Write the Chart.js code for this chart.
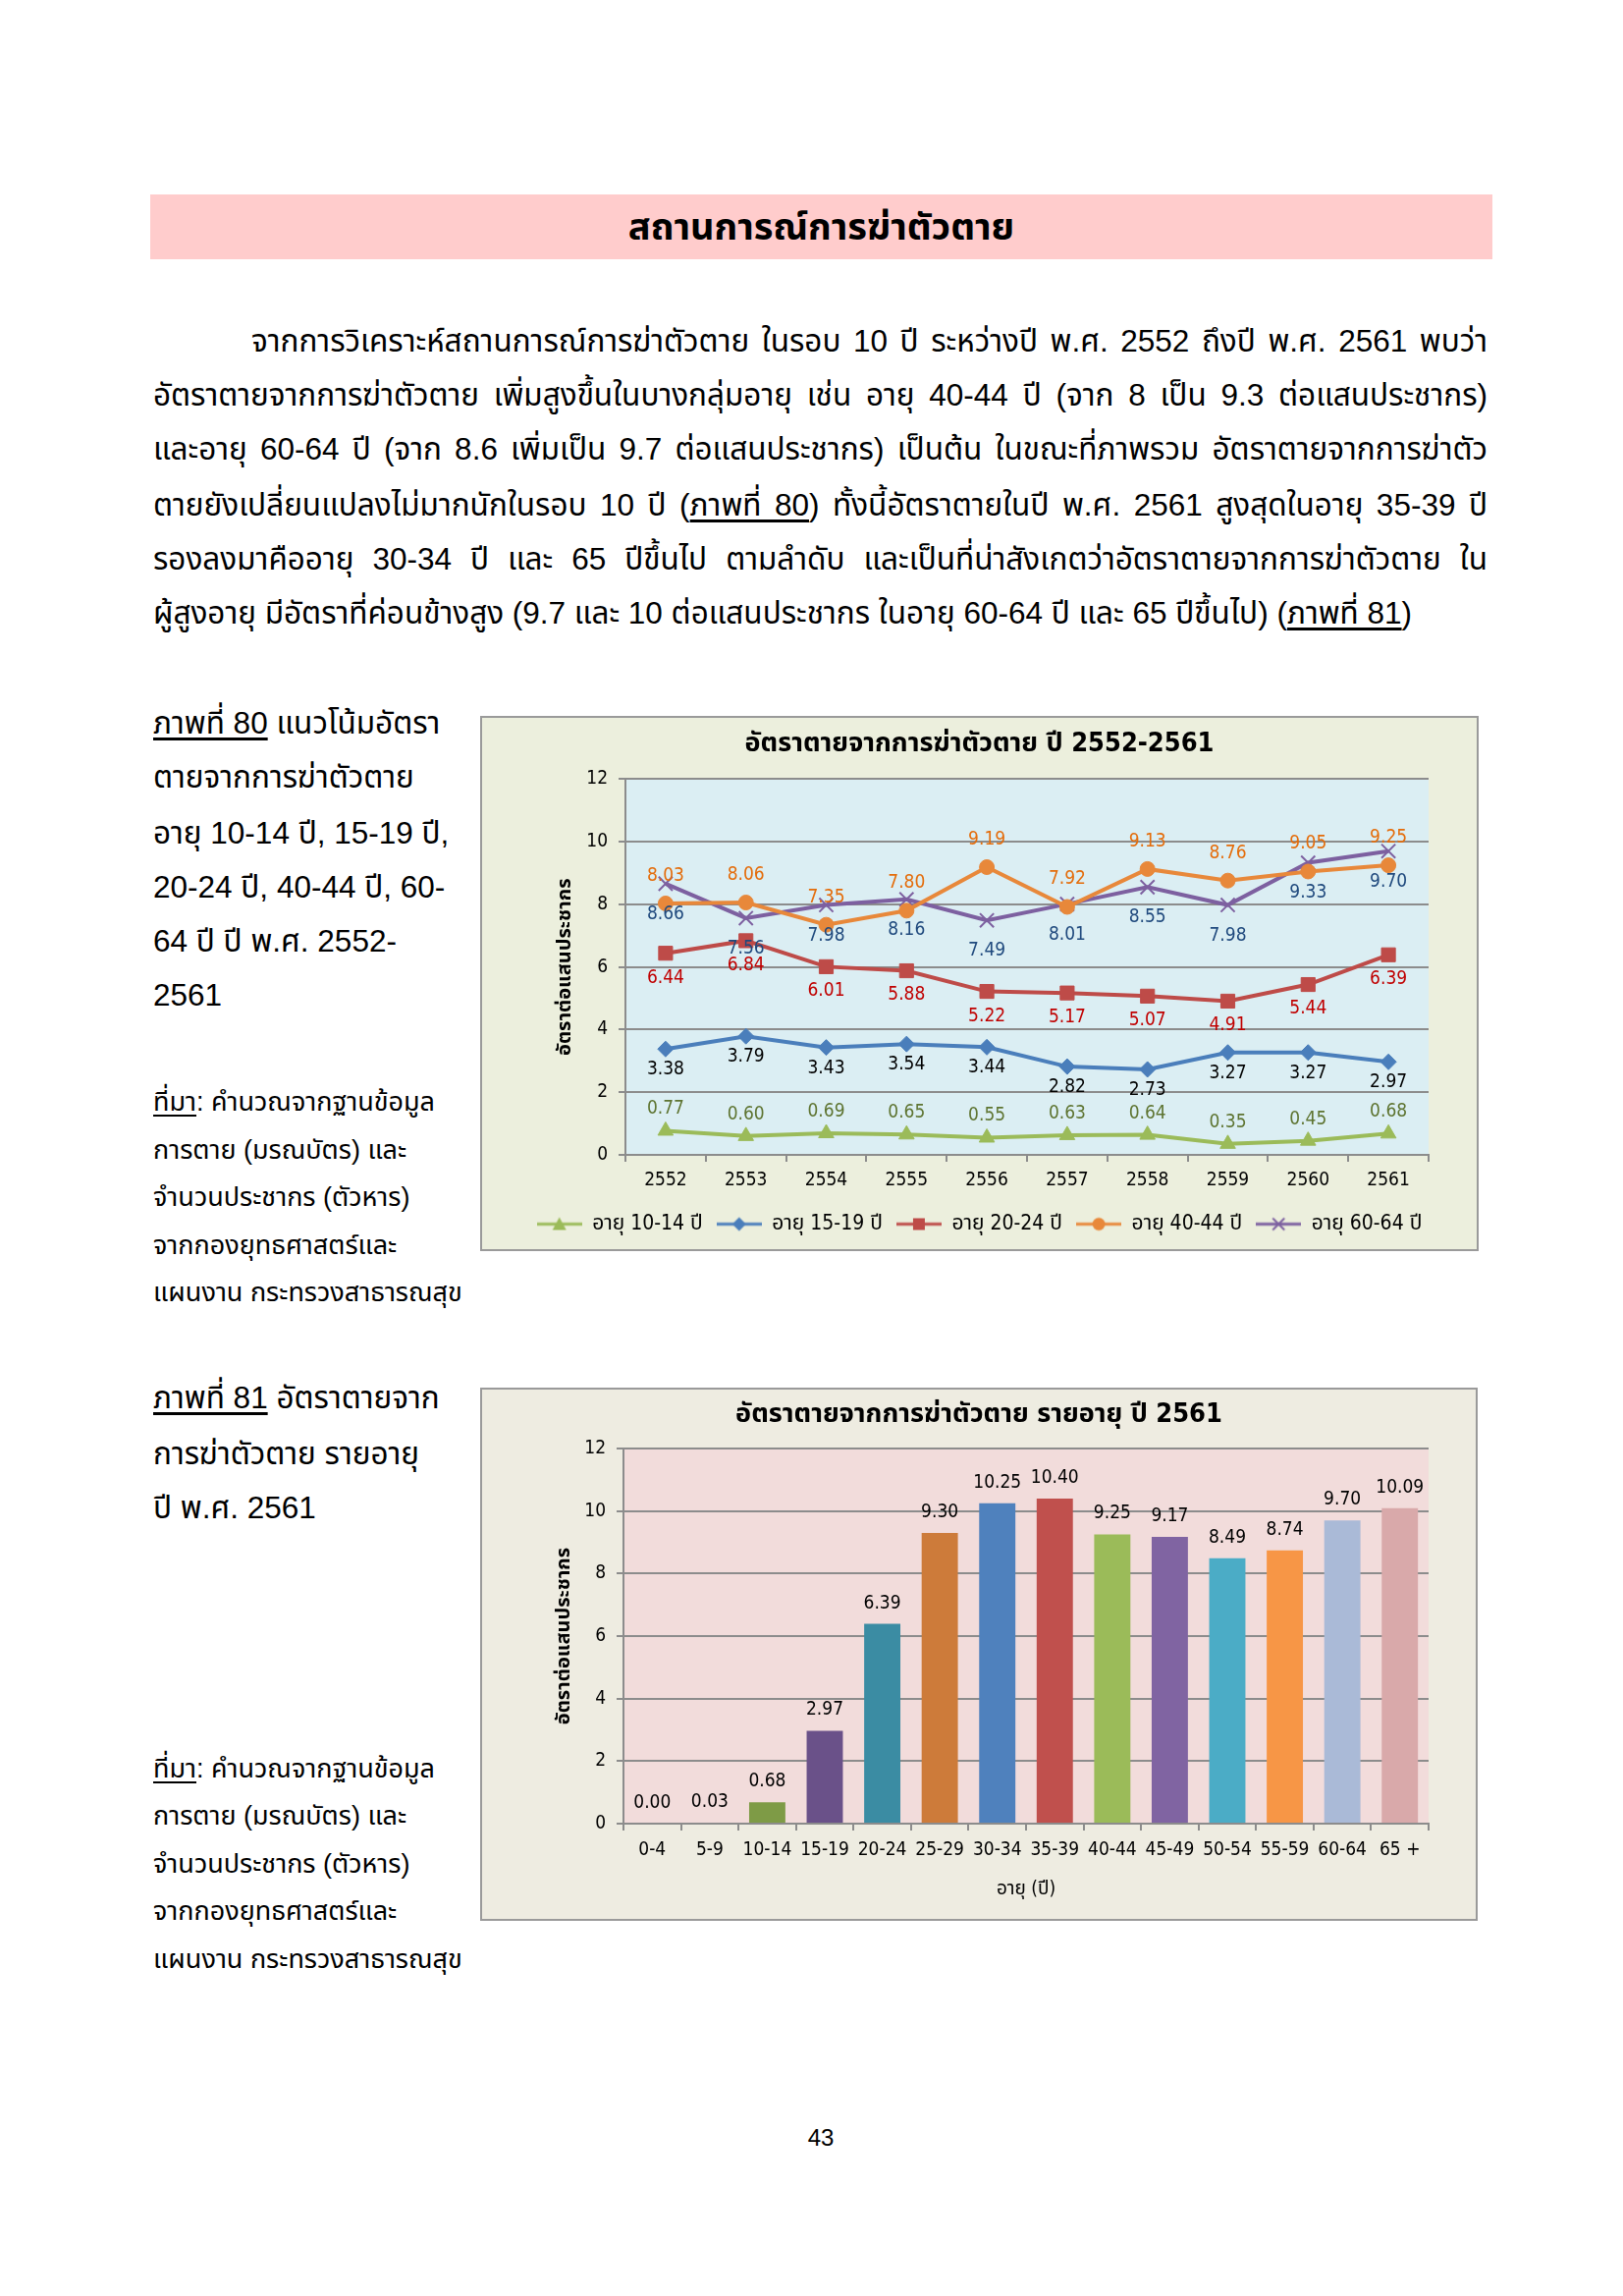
<!DOCTYPE html>
<html>
<head>
<meta charset="utf-8">
<script src="https://cdn.jsdelivr.net/npm/chart.js@4.4.0/dist/chart.umd.min.js"></script>
<style>
  html, body { margin: 0; padding: 0; background: #fff; }
  body { width: 1653px; height: 2338px; position: relative; overflow: hidden;
         font-family: "Liberation Sans", "Noto Sans Thai", "DejaVu Sans", sans-serif; color: #000; }
  .abs { position: absolute; white-space: nowrap; }
  .band { left: 153px; top: 198px; width: 1367px; height: 66px; background: #FFCCCC; }
  .band-title { left: 153px; top: 198px; width: 1367px; line-height: 66px; text-align: center;
                font-size: 38px; font-weight: bold; }
  .para { position: absolute; left: 156px; width: 1359px; font-size: 31.5px; line-height: 40px; height: 40px;
          text-align: justify; text-align-last: justify; white-space: normal; overflow: visible; }
  .cap { font-size: 31.5px; line-height: 40px; height: 40px; left: 156px; }
  .src { font-size: 27px; line-height: 36px; height: 36px; left: 156px; }
  u { text-underline-offset: 4px; }
  .frame { position: absolute; box-sizing: border-box; border: 2px solid #9a9a9a; }
  .frame canvas { display: block; }
</style>
</head>
<body>

<div class="abs band"></div>
<div class="abs band-title">สถานการณ์การฆ่าตัวตาย</div>

<div class="para" style="top:327px; left:256px; width:1259px;">จากการวิเคราะห์สถานการณ์การฆ่าตัวตาย ในรอบ 10 ปี ระหว่างปี พ.ศ. 2552 ถึงปี พ.ศ. 2561 พบว่า</div>
<div class="para" style="top:382px;">อัตราตายจากการฆ่าตัวตาย เพิ่มสูงขึ้นในบางกลุ่มอายุ เช่น อายุ 40-44 ปี (จาก 8 เป็น 9.3 ต่อแสนประชากร)</div>
<div class="para" style="top:437px;">และอายุ 60-64 ปี (จาก 8.6 เพิ่มเป็น 9.7 ต่อแสนประชากร) เป็นต้น ในขณะที่ภาพรวม อัตราตายจากการฆ่าตัว</div>
<div class="para" style="top:494px;">ตายยังเปลี่ยนแปลงไม่มากนักในรอบ 10 ปี (<u>ภาพที่ 80</u>) ทั้งนี้อัตราตายในปี พ.ศ. 2561 สูงสุดในอายุ 35-39 ปี</div>
<div class="para" style="top:549px;">รองลงมาคืออายุ 30-34 ปี และ 65 ปีขึ้นไป ตามลำดับ และเป็นที่น่าสังเกตว่าอัตราตายจากการฆ่าตัวตาย ใน</div>
<div class="para" style="top:604px; text-align:left; text-align-last:left;">ผู้สูงอายุ มีอัตราที่ค่อนข้างสูง (9.7 และ 10 ต่อแสนประชากร ในอายุ 60-64 ปี และ 65 ปีขึ้นไป) (<u>ภาพที่ 81</u>)</div>

<div class="abs cap" style="top:716px;"><u>ภาพที่ 80</u> แนวโน้มอัตรา</div>
<div class="abs cap" style="top:771px;">ตายจากการฆ่าตัวตาย</div>
<div class="abs cap" style="top:828px;">อายุ 10-14 ปี, 15-19 ปี,</div>
<div class="abs cap" style="top:883px;">20-24 ปี, 40-44 ปี, 60-</div>
<div class="abs cap" style="top:938px;">64 ปี ปี พ.ศ. 2552-</div>
<div class="abs cap" style="top:993px;">2561</div>

<div class="abs src" style="top:1104px;"><u>ที่มา</u>: คำนวณจากฐานข้อมูล</div>
<div class="abs src" style="top:1153px;">การตาย (มรณบัตร) และ</div>
<div class="abs src" style="top:1201px;">จำนวนประชากร (ตัวหาร)</div>
<div class="abs src" style="top:1250px;">จากกองยุทธศาสตร์และ</div>
<div class="abs src" style="top:1298px;">แผนงาน กระทรวงสาธารณสุข</div>

<div class="abs cap" style="top:1403px;"><u>ภาพที่ 81</u> อัตราตายจาก</div>
<div class="abs cap" style="top:1460px;">การฆ่าตัวตาย รายอายุ</div>
<div class="abs cap" style="top:1515px;">ปี พ.ศ. 2561</div>

<div class="abs src" style="top:1783px;"><u>ที่มา</u>: คำนวณจากฐานข้อมูล</div>
<div class="abs src" style="top:1831px;">การตาย (มรณบัตร) และ</div>
<div class="abs src" style="top:1880px;">จำนวนประชากร (ตัวหาร)</div>
<div class="abs src" style="top:1928px;">จากกองยุทธศาสตร์และ</div>
<div class="abs src" style="top:1977px;">แผนงาน กระทรวงสาธารณสุข</div>

<div class="abs" style="left:816px; top:2163px; width:40px; text-align:center; font-size:24px; line-height:28px;">43</div>

<div class="frame" style="left:489px; top:729px; width:1017px; height:545px;">
  <canvas id="trendChart" width="1013" height="541"></canvas>
</div>
<div class="frame" style="left:489px; top:1413px; width:1016px; height:543px;">
  <canvas id="ageChart" width="1012" height="539"></canvas>
</div>

<script>
// ---- data: chart 80 (trend by year) ----
const years = ['2552', '2553', '2554', '2555', '2556', '2557', '2558', '2559', '2560', '2561'];
const age10to14 = [0.77, 0.60, 0.69, 0.65, 0.55, 0.63, 0.64, 0.35, 0.45, 0.68];
const age15to19 = [3.38, 3.79, 3.43, 3.54, 3.44, 2.82, 2.73, 3.27, 3.27, 2.97];
const age20to24 = [6.44, 6.84, 6.01, 5.88, 5.22, 5.17, 5.07, 4.91, 5.44, 6.39];
const age40to44 = [8.03, 8.06, 7.35, 7.80, 9.19, 7.92, 9.13, 8.76, 9.05, 9.25];
const age60to64 = [8.66, 7.56, 7.98, 8.16, 7.49, 8.01, 8.55, 7.98, 9.33, 9.70];
const trendSeriesNames = ['อายุ 10-14 ปี', 'อายุ 15-19 ปี', 'อายุ 20-24 ปี', 'อายุ 40-44 ปี', 'อายุ 60-64 ปี'];

// ---- data: chart 81 (by age group, 2561) ----
const ageGroups = ['0-4', '5-9', '10-14', '15-19', '20-24', '25-29', '30-34', '35-39', '40-44', '45-49', '50-54', '55-59', '60-64', '65 +'];
const rate2561 = [0.00, 0.03, 0.68, 2.97, 6.39, 9.30, 10.25, 10.40, 9.25, 9.17, 8.49, 8.74, 9.70, 10.09];

const yMin = 0, yMax = 12, yStep = 2;

const chartFont = '"DejaVu Sans Condensed", "DejaVu Sans", "Noto Sans Thai", sans-serif';
const gridGray = '#8c8c8c';

// background of frame + plot area
const backgroundPlugin = {
    id: 'frameBackground',
    beforeDraw: function(chart, args, opts) {
        const ctx = chart.ctx;
        const area = chart.chartArea;
        ctx.save();
        ctx.fillStyle = opts.frame;
        ctx.fillRect(0, 0, chart.width, chart.height);
        ctx.fillStyle = opts.plot;
        ctx.fillRect(area.left, area.top, area.right - area.left, area.bottom - area.top);
        ctx.restore();
    }
};

// value labels above / below each point or bar
const valueLabelPlugin = {
    id: 'valueLabels',
    afterDatasetsDraw: function(chart) {
        const ctx = chart.ctx;
        ctx.save();
        ctx.textAlign = 'center';
        ctx.textBaseline = 'middle';
        chart.data.datasets.forEach(function(ds, i) {
            const meta = chart.getDatasetMeta(i);
            ctx.font = '19px ' + chartFont;
            ctx.fillStyle = ds.labelColor || '#000';
            meta.data.forEach(function(el, j) {
                const off = ds.labelPos === 'below' ? ds.labelOffset : -ds.labelOffset;
                ctx.fillText(ds.data[j].toFixed(2), el.x, el.y + off);
            });
        });
        ctx.restore();
    }
};

// empty axis on the right: keeps the plot off the frame edge while title/legend stay centred
function spacerAxis(width) {
    return {
        position: 'right',
        display: true,
        grid: { display: false },
        border: { display: false },
        ticks: { display: false },
        afterFit: function(axis) { axis.width = width; }
    };
}

// legend sample: short line with the marker in the middle
function legendSample(color, style) {
    const c = document.createElement('canvas');
    c.width = 46; c.height = 16;
    const g = c.getContext('2d');
    g.strokeStyle = color; g.fillStyle = color; g.lineWidth = 3;
    g.beginPath(); g.moveTo(0, 8); g.lineTo(46, 8); g.stroke();
    const x = 23, y = 8;
    g.beginPath();
    if (style === 'triangle') { g.moveTo(x, y - 7); g.lineTo(x + 7, y + 6); g.lineTo(x - 7, y + 6); g.closePath(); g.fill(); }
    if (style === 'rectRot') { g.moveTo(x, y - 7); g.lineTo(x + 7, y); g.lineTo(x, y + 7); g.lineTo(x - 7, y); g.closePath(); g.fill(); }
    if (style === 'rect') { g.fillRect(x - 6, y - 6, 12, 12); }
    if (style === 'circle') { g.arc(x, y, 6.5, 0, Math.PI * 2); g.fill(); }
    if (style === 'crossRot') { g.lineWidth = 2; g.moveTo(x - 6, y - 6); g.lineTo(x + 6, y + 6); g.moveTo(x + 6, y - 6); g.lineTo(x - 6, y + 6); g.stroke(); }
    return c;
}

function lineSeries(label, data, color, style, radius, labelColor, labelPos, labelOffset) {
    return {
        label: label,
        data: data,
        yAxisID: 'y',
        borderColor: color,
        backgroundColor: color,
        borderWidth: 4,
        pointStyle: style,
        pointRadius: radius,
        pointBackgroundColor: color,
        pointBorderColor: color,
        pointBorderWidth: style === 'crossRot' ? 2 : 1,
        tension: 0,
        labelColor: labelColor,
        labelPos: labelPos,
        labelOffset: labelOffset,
        legendImage: legendSample(color, style)
    };
}

document.addEventListener('DOMContentLoaded', function() {
    Chart.defaults.font.family = chartFont;
    Chart.defaults.color = '#000';
    Chart.defaults.animation = false;

    // Trend chart
    const trendEl = document.getElementById('trendChart');
    new Chart(trendEl, {
        type: 'line',
        data: {
            labels: years,
            datasets: [
                lineSeries(trendSeriesNames[0], age10to14, '#9BBB59', 'triangle', 9, '#5E7431', 'above', 22),
                lineSeries(trendSeriesNames[1], age15to19, '#4A7EBB', 'rectRot', 8, '#000000', 'below', 21),
                lineSeries(trendSeriesNames[2], age20to24, '#BE4B48', 'rect', 10, '#C00000', 'below', 25),
                lineSeries(trendSeriesNames[3], age40to44, '#E8883A', 'circle', 7.5, '#E46C0A', 'above', 28),
                lineSeries(trendSeriesNames[4], age60to64, '#7D60A0', 'crossRot', 10, '#1F497D', 'below', 31)
            ]
        },
        options: {
            responsive: false,
            devicePixelRatio: 1,
            layout: { padding: { left: 0, right: 0, top: 0, bottom: 5 } },
            plugins: {
                frameBackground: { frame: '#ECEFDD', plot: '#DBEEF3' },
                title: {
                    display: true,
                    text: 'อัตราตายจากการฆ่าตัวตาย ปี 2552-2561',
                    font: { size: 27, weight: 'bold' },
                    color: '#000',
                    padding: { top: 11, bottom: 19 }
                },
                legend: {
                    position: 'bottom',
                    labels: {
                        usePointStyle: true,
                        pointStyleWidth: 46,
                        boxHeight: 16,
                        padding: 14,
                        font: { size: 21 },
                        generateLabels: function(chart) {
                            return chart.data.datasets.map(function(ds, i) {
                                return { text: ds.label, pointStyle: ds.legendImage, datasetIndex: i,
                                         fillStyle: ds.borderColor, strokeStyle: ds.borderColor, lineWidth: 0 };
                            });
                        }
                    }
                },
                tooltip: { enabled: false }
            },
            scales: {
                x: {
                    offset: true,
                    grid: { offset: true, drawOnChartArea: false, drawTicks: true, tickLength: 7, color: gridGray, lineWidth: 2 },
                    border: { color: gridGray, width: 2 },
                    ticks: { padding: 8, font: { size: 19 }, color: '#000' },
                    afterFit: function(axis) { axis.height = 46; }
                },
                y: {
                    min: yMin, max: yMax,
                    ticks: { stepSize: yStep, padding: 11, font: { size: 19 }, color: '#000' },
                    grid: { color: gridGray, lineWidth: 2, tickLength: 7 },
                    border: { color: gridGray, width: 2 },
                    title: { display: true, text: 'อัตราต่อแสนประชากร', font: { size: 20, weight: 'bold' }, color: '#000', padding: { top: 73 } },
                    afterFit: function(axis) { axis.width = 146; }
                },
                yRight: spacerAxis(49)
            }
        },
        plugins: [backgroundPlugin, valueLabelPlugin]
    });

    // Age group bar chart
    const barColors = ['#3F6DA3', '#B65551', '#7E9B46', '#6A5189', '#3B8CA3', '#CD7B3A', '#4F81BD',
                       '#C0504D', '#9BBB59', '#8064A2', '#4BACC6', '#F79646', '#AABAD7', '#D9A9AA'];
    const ageEl = document.getElementById('ageChart');
    new Chart(ageEl, {
        type: 'bar',
        data: {
            labels: ageGroups,
            datasets: [{
                label: 'อัตราตาย',
                data: rate2561,
                yAxisID: 'y',
                backgroundColor: barColors,
                borderWidth: 0,
                categoryPercentage: 1,
                barPercentage: 0.63,
                labelColor: '#000',
                labelPos: 'above',
                labelOffset: 21
            }]
        },
        options: {
            responsive: false,
            devicePixelRatio: 1,
            layout: { padding: { left: 0, right: 0, top: 0, bottom: 0 } },
            plugins: {
                frameBackground: { frame: '#EEECE1', plot: '#F2DCDB' },
                title: {
                    display: true,
                    text: 'อัตราตายจากการฆ่าตัวตาย รายอายุ ปี 2561',
                    font: { size: 27, weight: 'bold' },
                    color: '#000',
                    padding: { top: 10, bottom: 17.6 }
                },
                legend: { display: false },
                tooltip: { enabled: false }
            },
            scales: {
                x: {
                    grid: { offset: true, drawOnChartArea: false, drawTicks: true, tickLength: 7, color: gridGray, lineWidth: 2 },
                    border: { color: gridGray, width: 2 },
                    ticks: { padding: 9, font: { size: 19 }, color: '#000', maxRotation: 0, autoSkip: false },
                    title: { display: true, text: 'อายุ (ปี)', font: { size: 19 }, color: '#000', padding: { top: 10, bottom: 19 } },
                    afterFit: function(axis) { axis.height = 97; }
                },
                y: {
                    min: yMin, max: yMax,
                    ticks: { stepSize: yStep, padding: 11, font: { size: 19 }, color: '#000' },
                    grid: { color: gridGray, lineWidth: 2, tickLength: 7 },
                    border: { color: gridGray, width: 2 },
                    title: { display: true, text: 'อัตราต่อแสนประชากร', font: { size: 20, weight: 'bold' }, color: '#000', padding: { top: 72 } },
                    afterFit: function(axis) { axis.width = 144; }
                },
                yRight: spacerAxis(48)
            }
        },
        plugins: [backgroundPlugin, valueLabelPlugin]
    });
});
</script>
</body>
</html>
